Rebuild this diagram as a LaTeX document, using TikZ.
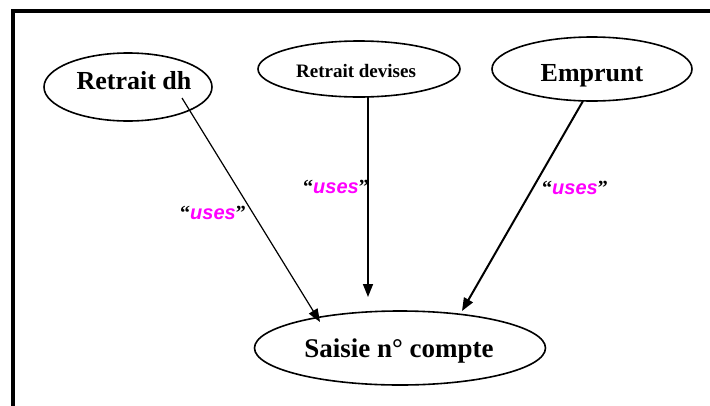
\documentclass[tikz,border=0pt]{standalone}
\usepackage{fontspec}
\setmainfont{Liberation Serif}
\newfontfamily\arialfont{Liberation Sans}
\usetikzlibrary{shapes.geometric,arrows.meta}
\definecolor{mag}{RGB}{255,0,255}
\tikzset{
  uc/.style={draw, ellipse, line width=1.6pt, inner sep=0pt},
  uctext/.style={inner sep=0pt, font=\bfseries\fontsize{26}{30}\selectfont},
  conn/.style={line width=1.3pt, -{Triangle[length=13pt,width=10pt]}},
  lbl/.style={inner sep=0pt, font=\bfseries\fontsize{20}{24}\selectfont}
}
\newcommand{\usesword}{“{\arialfont\itshape\color{mag}uses}”}
\begin{document}
\begin{tikzpicture}[x=1pt,y=-1pt]
\useasboundingbox (0,0) rectangle (710,405);
\fill[white] (0,0) rectangle (710,405);
\draw[line width=4pt] (13,407) -- (13,11) -- (712,11);
\node[uc, minimum width=168pt, minimum height=68pt] (rdh) at (128,87) {};
\node[uctext] (rdhT) at (134,81) {Retrait dh};
\node[uc, minimum width=202pt, minimum height=56pt] (rdev) at (359,69) {};
\node[uctext, font=\bfseries\fontsize{19}{22}\selectfont] (rdevT) at (356,71) {Retrait devises};
\node[uc, minimum width=200pt, minimum height=64pt] (emp) at (592,69) {};
\node[uctext] (empT) at (592,76) {Emprunt};
\node[uc, minimum width=291pt, minimum height=74pt] (sai) at (400,348) {};
\node[uctext, font=\bfseries\fontsize{27}{31}\selectfont] (saiT) at (399,351) {Saisie n° compte};
\coordinate (s1) at (182,98);
\coordinate (e1) at (320,322);
\coordinate (s2) at (368,97);
\coordinate (e2) at (368,297);
\coordinate (s3) at (583,101);
\coordinate (e3) at (462,311);
\draw[conn, line width=1.2pt] (s1) -- (e1);
\draw[conn, line width=1.5pt] (s2) -- (e2);
\draw[conn, line width=2pt] (s3) -- (e3);
\node[lbl] (l1) at (213,213) {\usesword};
\node[lbl] (l2) at (336,187) {\usesword};
\node[lbl] (l3) at (575,188) {\usesword};
\end{tikzpicture}
\end{document}
